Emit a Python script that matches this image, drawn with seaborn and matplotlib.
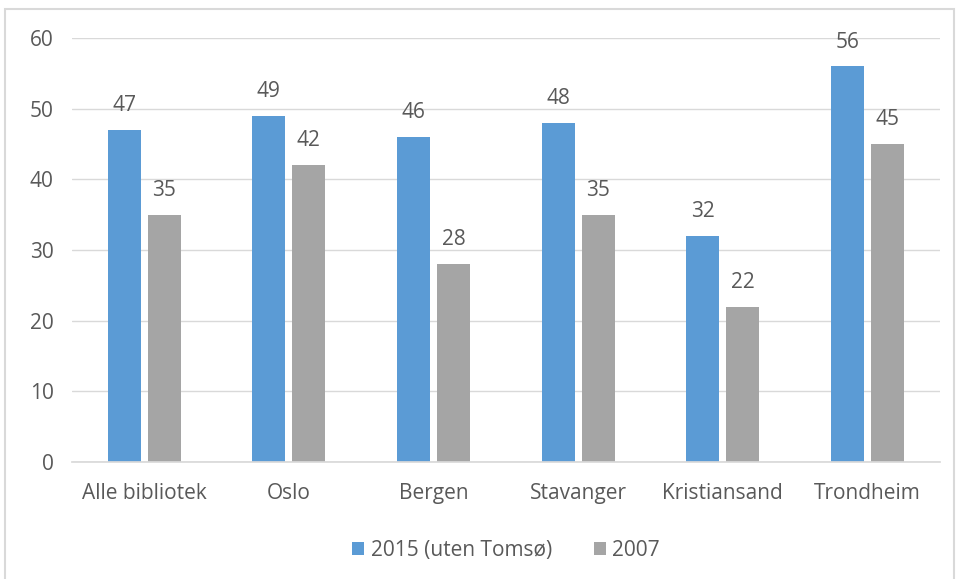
import pandas as pd
import seaborn as sns
import matplotlib.pyplot as plt
from matplotlib.patches import Rectangle

categories = ["Alle bibliotek", "Oslo", "Bergen", "Stavanger", "Kristiansand", "Trondheim"]
series_names = ["2015 (uten Tomsø)", "2007"]
values_2015 = [47, 49, 46, 48, 32, 56]
values_2007 = [35, 42, 28, 35, 22, 45]
y_ticks = [0, 10, 20, 30, 40, 50, 60]

df = pd.DataFrame({
    "Bibliotek": categories * 2,
    "Serie": [series_names[0]] * len(categories) + [series_names[1]] * len(categories),
    "Verdi": values_2015 + values_2007,
})

text_col = "#595959"
sns.set_theme(style="white", rc={
    "axes.edgecolor": "#D9D9D9",
    "text.color": text_col,
    "xtick.color": text_col,
    "ytick.color": text_col,
})
plt.rcParams["font.family"] = ["Open Sans", "DejaVu Sans"]

fig = plt.figure(figsize=(9.59, 5.79), dpi=100)
ax = fig.add_axes([0.075, 0.202, 0.905, 0.732])

palette = {series_names[0]: "#5B9BD5", series_names[1]: "#A5A5A5"}
sns.barplot(data=df, x="Bibliotek", y="Verdi", hue="Serie", hue_order=series_names,
            palette=palette, width=0.552, gap=0.174, saturation=1,
            linewidth=0, edgecolor="none", ax=ax)

for c in ax.containers:
    ax.bar_label(c, padding=10, fontsize=15, color=text_col)

ax.set_ylim(0, 60)
ax.set_xlim(-0.5, 5.5)
ax.set_yticks(y_ticks)
ax.yaxis.grid(True, color="#D9D9D9", linewidth=1)
ax.set_axisbelow(True)
for s in ["top", "right", "left"]:
    ax.spines[s].set_visible(False)
ax.spines["bottom"].set_color("#D9D9D9")
ax.tick_params(axis="both", length=0, labelsize=15)
ax.tick_params(axis="x", pad=15)
ax.tick_params(axis="y", pad=13)
ax.set_xlabel("")
ax.set_ylabel("")

ax.legend(loc="upper center", bbox_to_anchor=(0.5, -0.14), ncol=2, frameon=False,
          fontsize=15, handlelength=0.6, handleheight=0.6, handletextpad=0.3,
          columnspacing=2.0, labelcolor=text_col)

fig.patches.append(Rectangle((0.005, -0.01), 0.99, 0.995, transform=fig.transFigure,
                             fill=False, edgecolor="#D9D9D9", linewidth=1.5))

fig.savefig("out.png", dpi=100)
